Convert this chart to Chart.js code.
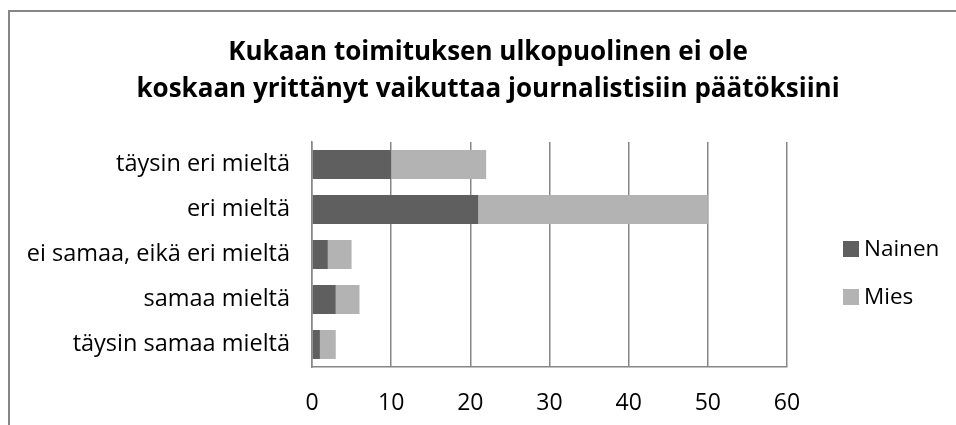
<!DOCTYPE html>
<html>
<head>
<meta charset="utf-8">
<script src="https://cdn.jsdelivr.net/npm/chart.js@4.4.1/dist/chart.umd.min.js"></script>
<style>
  html, body { margin: 0; padding: 0; background: #fff; }
  #wrap { width: 956px; height: 425px; position: relative; }
</style>
</head>
<body>
<div id="wrap"><canvas id="chart"></canvas></div>
<script>
// --- Data ---
const categories = ['täysin eri mieltä', 'eri mieltä', 'ei samaa, eikä eri mieltä', 'samaa mieltä', 'täysin samaa mieltä'];
const nainenValues = [10, 21, 2, 3, 1];
const miesValues = [12, 29, 3, 3, 2];
const xTicks = [0, 10, 20, 30, 40, 50, 60];
const titleLines = ['Kukaan toimituksen ulkopuolinen ei ole', 'koskaan yrittänyt vaikuttaa journalistisiin päätöksiini'];

const DARK = '#5f5f5f';
const LIGHT = '#b3b3b3';
const GRID = '#868686';
const FONT = '"Open Sans", Lato, sans-serif';

// --- Frame, title and legend drawn around the chart ---
const decorPlugin = {
    id: 'decor',
    beforeDraw(chart) {
        const ctx = chart.ctx;
        ctx.save();
        ctx.strokeStyle = GRID;
        ctx.lineWidth = 2;
        ctx.strokeRect(9, 11, 1000, 500);
        ctx.restore();
    },
    afterDraw(chart) {
        const ctx = chart.ctx;
        ctx.save();
        // title
        ctx.fillStyle = '#000';
        ctx.font = 'bold 26px ' + FONT;
        ctx.textAlign = 'center';
        ctx.textBaseline = 'alphabetic';
        ctx.fillText(titleLines[0], 488, 60);
        ctx.fillText(titleLines[1], 488, 97);
        // legend
        const items = [{ label: 'Nainen', color: DARK }, { label: 'Mies', color: LIGHT }];
        ctx.font = '22.5px ' + FONT;
        ctx.textAlign = 'left';
        ctx.textBaseline = 'middle';
        items.forEach((it, i) => {
            const cy = 249 + i * 48;
            ctx.fillStyle = it.color;
            ctx.fillRect(843, cy - 8, 16, 16);
            ctx.fillStyle = '#000';
            ctx.fillText(it.label, 864, cy + 1);
        });
        ctx.restore();
    }
};

const ctx = document.getElementById('chart').getContext('2d');
new Chart(ctx, {
    type: 'bar',
    data: {
        labels: categories,
        datasets: [
            { label: 'Nainen', data: nainenValues, backgroundColor: DARK, barPercentage: 0.645, categoryPercentage: 1 },
            { label: 'Mies', data: miesValues, backgroundColor: LIGHT, barPercentage: 0.645, categoryPercentage: 1 }
        ]
    },
    options: {
        indexAxis: 'y',
        responsive: true,
        maintainAspectRatio: false,
        animation: false,
        layout: { padding: { left: 0, top: 142, right: 169, bottom: 4 } },
        plugins: {
            legend: { display: false },
            title: { display: false },
            tooltip: { enabled: false }
        },
        scales: {
            x: {
                stacked: true,
                min: 0,
                max: 60,
                afterBuildTicks: (scale) => { scale.ticks = xTicks.map(v => ({ value: v })); },
                afterFit: (scale) => { scale.height = 54; },
                grid: { color: GRID, lineWidth: 1.5, drawTicks: false },
                border: { color: GRID, width: 1.5 },
                ticks: { color: '#000', font: { family: FONT, size: 23 }, padding: 23 }
            },
            y: {
                stacked: true,
                afterFit: (scale) => { scale.width = 312; },
                grid: { display: false, drawTicks: false },
                border: { color: GRID, width: 1.5 },
                ticks: { color: '#000', font: { family: FONT, size: 23.5 }, padding: 22 }
            }
        }
    },
    plugins: [decorPlugin]
});
</script>
</body>
</html>
